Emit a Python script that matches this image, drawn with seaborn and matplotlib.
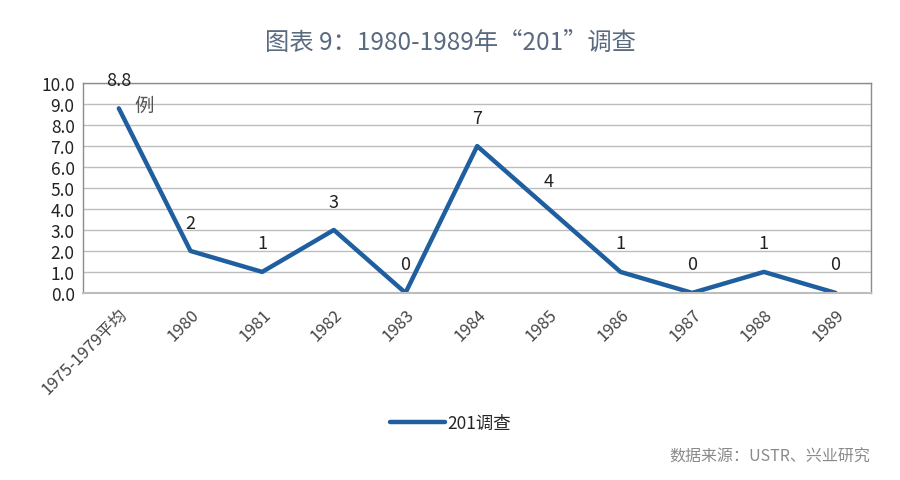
import pandas as pd
import seaborn as sns
import matplotlib.pyplot as plt
from matplotlib.ticker import FixedLocator

# 数据
categories = ["1975-1979平均", "1980", "1981", "1982", "1983", "1984",
              "1985", "1986", "1987", "1988", "1989"]
values = [8.8, 2, 1, 3, 0, 7, 4, 1, 0, 1, 0]
value_labels = ["8.8", "2", "1", "3", "0", "7", "4", "1", "0", "1", "0"]
y_ticks = [0, 1, 2, 3, 4, 5, 6, 7, 8, 9, 10]

df = pd.DataFrame({"年份": categories, "201调查": values})

sns.set_theme(style="white")
plt.rcParams['font.family'] = ['Noto Sans CJK SC', 'DejaVu Sans']

fig = plt.figure(figsize=(9, 4.81), dpi=100)
ax = fig.add_axes([0.0922, 0.389, 0.876, 0.436])

line_color = "#1F5F9F"
sns.lineplot(data=df, x="年份", y="201调查", ax=ax, color=line_color,
             linewidth=3.2, sort=False, label="201调查")

ax.set_xlim(-0.5, len(categories) - 0.5)
ax.set_ylim(0, 10)
ax.set_yticks(y_ticks)
ax.set_yticklabels([f"{v:.1f}" for v in y_ticks], fontsize=12.5, color="#222222")
ax.set_xticks(range(len(categories)))
ax.set_xticklabels(categories, rotation=45, ha="right", rotation_mode="anchor",
                   fontsize=12, color="#444444")
ax.tick_params(axis="x", which="major", length=0, pad=9)
ax.tick_params(axis="y", length=0, pad=6)
ax.xaxis.set_minor_locator(FixedLocator([i - 0.5 for i in range(len(categories) + 1)]))
ax.tick_params(axis="x", which="minor", length=5, color="#bbbbbb", width=1, direction="out")
ax.set_xlabel("")
ax.set_ylabel("")

ax.grid(axis="y", color="#bdbdbd", linewidth=1)
ax.set_axisbelow(True)
for side in ["left", "top", "right"]:
    ax.spines[side].set_color("#8c8c8c")
    ax.spines[side].set_linewidth(1)
ax.spines["bottom"].set_color("#bdbdbd")
ax.spines["bottom"].set_linewidth(1.5)

# 数据标签
for i, (v, lab) in enumerate(zip(values, value_labels)):
    ax.annotate(lab, (i, v), xytext=(0, 14), textcoords="offset points",
                ha="center", va="bottom", fontsize=13, color="#222222")
ax.annotate("例", (0, values[0]), xytext=(11, 2), textcoords="offset points",
            ha="left", va="center", fontsize=14, color="#555555")

leg = ax.legend(loc="center", frameon=False, fontsize=12.5,
                handlelength=3.2, handletextpad=0.1)
leg.set_bbox_to_anchor((0.0, 0.0, 1.0, 2 * (481 - 424) / 481), transform=fig.transFigure)

fig.text(0.5, 1 - 43 / 481, "图表 9：1980-1989年“201”调查", ha="center", va="center",
         fontsize=17.5, color="#5a6a80")
fig.text(870 / 900, 1 - 457 / 481, "数据来源：USTR、兴业研究", ha="right", va="center",
         fontsize=11.5, color="#8a8a8a")

fig.savefig("out.png", dpi=100, facecolor="white")
